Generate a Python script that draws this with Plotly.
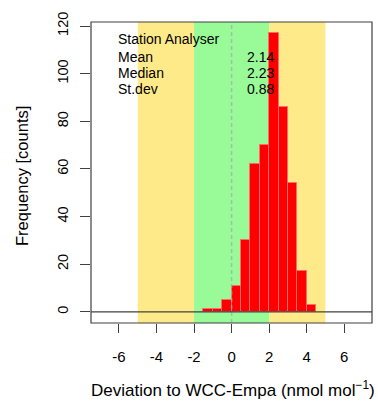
import plotly.graph_objects as go

# Histogram data (bin width 0.5)
bin_left = [-1.5, -1.0, -0.5, 0.0, 0.5, 1.0, 1.5, 2.0, 2.5, 3.0, 3.5, 4.0]
counts = [1, 1, 5, 11, 30, 62, 70, 117, 86, 54, 17, 3]
bin_width = 0.5

x_ticks = [-6, -4, -2, 0, 2, 4, 6]
y_ticks = [0, 20, 40, 60, 80, 100, 120]

stat_labels = ["Mean", "Median", "St.dev"]
stat_values = ["2.14", "2.23", "0.88"]
title_text = "Station Analyser"

green_band = [-2, 2]
yellow_bands = [[-5, -2], [2, 5]]

x_range = [-7.49, 7.48]
y_range = [-4.68, 121.68]

FONT = "Liberation Sans, Arial, sans-serif"

centers = [b + bin_width / 2 for b in bin_left]

fig = go.Figure()
fig.add_trace(go.Bar(
    x=centers, y=counts, width=[bin_width] * len(counts),
    marker=dict(color="#FF0000", line=dict(color="#FF6A6A", width=1)),
    hoverinfo="skip", showlegend=False,
))

shapes = []
for a, b in yellow_bands:
    shapes.append(dict(type="rect", xref="x", yref="paper", x0=a, x1=b, y0=0, y1=1,
                       fillcolor="#FFEA8A", line=dict(width=0), layer="below"))
shapes.append(dict(type="rect", xref="x", yref="paper", x0=green_band[0], x1=green_band[1],
                   y0=0, y1=1, fillcolor="#98FB98", line=dict(width=0), layer="below"))
shapes.append(dict(type="line", xref="x", yref="paper", x0=0, x1=0, y0=0, y1=1,
                   line=dict(color="rgba(170,170,170,0.75)", width=1.5, dash="4px,3px"), layer="above"))
shapes.append(dict(type="line", xref="paper", yref="y", x0=0, x1=1, y0=0, y1=0,
                   line=dict(color="#404040", width=1.2), layer="above"))
shapes.append(dict(type="rect", xref="paper", yref="paper", x0=0, x1=1, y0=0, y1=1,
                   line=dict(color="#404040", width=1.2), fillcolor="rgba(0,0,0,0)", layer="above"))
fig.update_layout(shapes=shapes)

annotations = [dict(x=-6.16, y=114.4, xref="x", yref="y", text=title_text, showarrow=False,
                    xanchor="left", yanchor="middle", font=dict(size=14, color="black", family=FONT))]
ys = [107.1, 100.3, 93.6]
for lab, val, yy in zip(stat_labels, stat_values, ys):
    annotations.append(dict(x=-6.16, y=yy, xref="x", yref="y", text=lab, showarrow=False,
                            xanchor="left", yanchor="middle", font=dict(size=14, color="black", family=FONT)))
    annotations.append(dict(x=0.72, y=yy, xref="x", yref="y", text=val, showarrow=False,
                            xanchor="left", yanchor="middle", font=dict(size=14, color="black", family=FONT)))
# axis titles
annotations.append(dict(x=(233 - 91) / 281, y=-(389 - 323) / 301, xref="paper", yref="paper",
                        text="Deviation to WCC-Empa (nmol mol<sup>\u22121</sup>)", showarrow=False,
                        xanchor="center", yanchor="middle", font=dict(size=17, color="black", family=FONT)))
annotations.append(dict(x=-(91 - 22) / 281, y=(323 - 176) / 301, xref="paper", yref="paper",
                        text="Frequency [counts]", textangle=-90, showarrow=False,
                        xanchor="center", yanchor="middle", font=dict(size=16.5, color="black", family=FONT)))
fig.update_layout(annotations=annotations)

fig.update_xaxes(range=x_range, tickmode="array", tickvals=x_ticks, ticktext=[str(v) for v in x_ticks],
                 ticks="outside", ticklen=9, tickcolor="#404040", tickwidth=1.2,
                 showgrid=False, zeroline=False, showline=False,
                 tickfont=dict(size=15, color="black", family=FONT), ticklabelstandoff=11)
fig.update_yaxes(range=y_range, tickmode="array", tickvals=y_ticks,
                 ticks="outside", ticklen=10, tickcolor="#404040", tickwidth=1.2,
                 showgrid=False, zeroline=False, showline=False, tickangle=-90,
                 tickfont=dict(size=14.5, color="black", family=FONT), ticklabelstandoff=6)

fig.update_layout(
    width=378, height=401,
    margin=dict(l=91, r=6, t=22, b=78),
    plot_bgcolor="white", paper_bgcolor="white",
    bargap=0, showlegend=False,
)

fig.write_html("out.html")
